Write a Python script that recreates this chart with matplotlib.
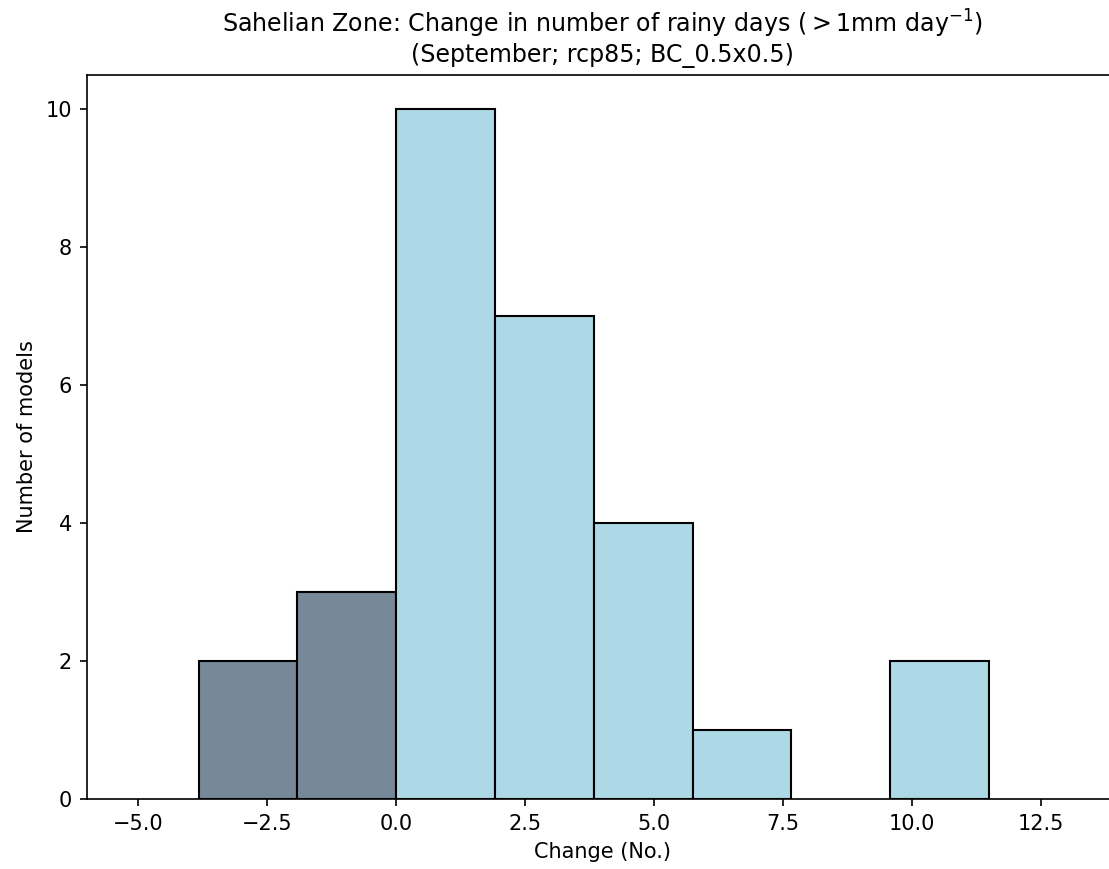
import numpy as np
import matplotlib
matplotlib.use("Agg")
import matplotlib.pyplot as plt

# bin edges (change in no. of rainy days) and model counts per bin
neg_edges = [-3.83, -1.915, 0.0]
neg_counts = [2, 3]
pos_edges = [0.0, 1.915, 3.83, 5.745, 7.66, 9.575, 11.49]
pos_counts = [10, 7, 4, 1, 0, 2]

fig = plt.figure(figsize=(1109 / 150, 869 / 150), dpi=150)
ax = fig.add_axes([0.0782, 0.0806, 0.9302, 0.8332])

# negative changes in slate grey, positive in light blue
ax.bar(neg_edges[:-1], neg_counts, width=np.diff(neg_edges), align='edge',
       color='#778899', edgecolor='black', linewidth=1.0)
pos_w = np.diff(pos_edges)
keep = [i for i, c in enumerate(pos_counts) if c > 0]
ax.bar([pos_edges[i] for i in keep], [pos_counts[i] for i in keep],
       width=[pos_w[i] for i in keep], align='edge',
       color='#ADD8E6', edgecolor='black', linewidth=1.0)

ax.set_xlim(-6.0, 14.0)
ax.set_ylim(0, 10.5)
ax.set_xticks([-5.0, -2.5, 0.0, 2.5, 5.0, 7.5, 10.0, 12.5])
ax.set_xlabel('Change (No.)')
ax.set_ylabel('Number of models')
ax.set_title('Sahelian Zone: Change in number of rainy days ($>1$mm day$^{-1}$)\n'
             '(September; rcp85; BC_0.5x0.5)', fontsize=11.4)

fig.savefig('out.png', dpi=150)
